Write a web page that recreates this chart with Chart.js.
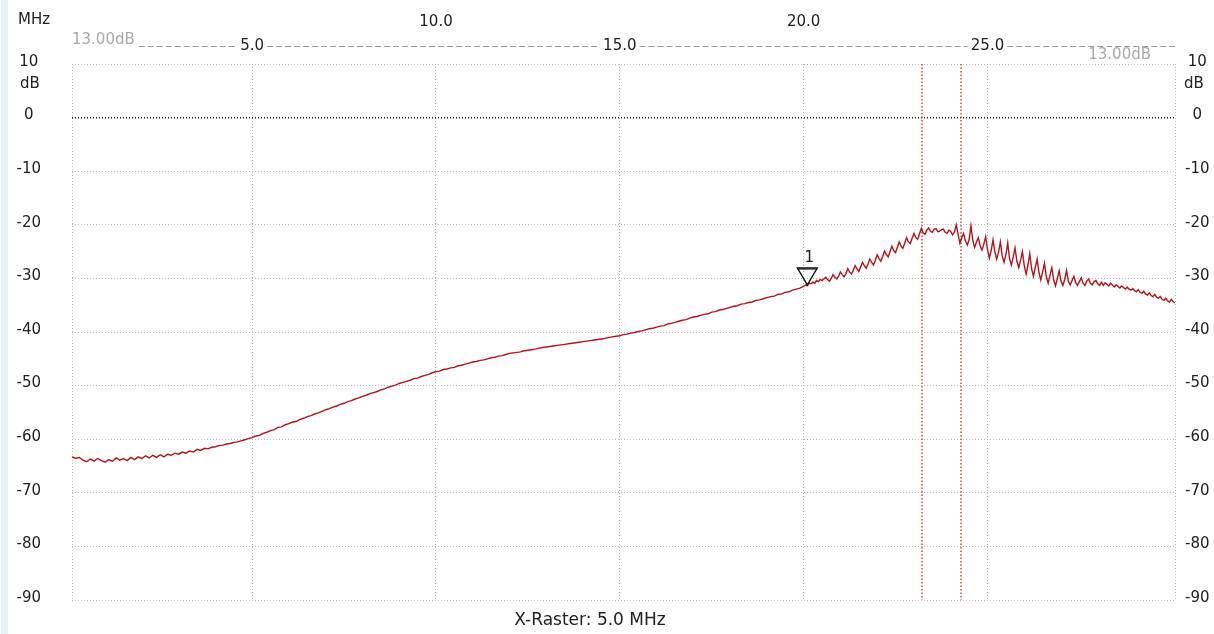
<!DOCTYPE html>
<html>
<head>
<meta charset="utf-8">
<script src="https://cdn.jsdelivr.net/npm/chart.js@4.4.0/dist/chart.umd.min.js"></script>
<style>
  html, body { margin: 0; padding: 0; background: #ffffff; }
  #wrap { position: relative; width: 1214px; height: 634px; }
</style>
</head>
<body>
<div id="wrap"><canvas id="sweep"></canvas></div>
<script>
// Sweep, 0.1 .. 19.9 MHz in 0.1 MHz steps (dB)
const coarseStartMHz = 0.1;
const coarseStepMHz = 0.1;
const coarseDb = [
  -63.3,-63.6,-63.4,-63.9,-64.2,-63.7,-64.1,-63.6,-64.0,-64.3,
  -63.8,-64.1,-63.5,-63.9,-63.6,-64.0,-63.4,-63.8,-63.3,-63.6,
  -63.1,-63.5,-63.0,-63.4,-62.9,-63.3,-62.8,-63.0,-62.6,-62.8,
  -62.4,-62.6,-62.2,-62.4,-61.9,-62.1,-61.7,-61.8,-61.5,-61.4,
  -61.2,-61.1,-60.9,-60.8,-60.6,-60.5,-60.3,-60.1,-59.9,-59.7,
  -59.4,-59.3,-58.9,-58.7,-58.4,-58.2,-57.8,-57.7,-57.3,-57.1,
  -56.8,-56.7,-56.3,-56.1,-55.8,-55.6,-55.3,-55.1,-54.8,-54.5,
  -54.3,-54.0,-53.8,-53.5,-53.3,-53.0,-52.8,-52.5,-52.3,-52.0,
  -51.8,-51.5,-51.3,-51.1,-50.8,-50.6,-50.3,-50.1,-49.9,-49.6,
  -49.4,-49.2,-49.0,-48.7,-48.6,-48.3,-48.1,-47.9,-47.6,-47.4,
  -47.3,-47.0,-46.9,-46.7,-46.6,-46.3,-46.2,-46.0,-45.8,-45.6,
  -45.5,-45.3,-45.2,-45.0,-44.8,-44.7,-44.5,-44.4,-44.2,-44.0,
  -43.9,-43.8,-43.7,-43.5,-43.4,-43.3,-43.2,-43.0,-42.9,-42.8,
  -42.7,-42.6,-42.5,-42.4,-42.3,-42.2,-42.1,-42.0,-41.9,-41.8,
  -41.7,-41.6,-41.5,-41.4,-41.3,-41.2,-41.0,-40.9,-40.8,-40.7,
  -40.5,-40.4,-40.2,-40.1,-39.9,-39.8,-39.6,-39.4,-39.3,-39.1,
  -38.9,-38.8,-38.5,-38.4,-38.2,-38.0,-37.8,-37.7,-37.4,-37.2,
  -37.1,-36.9,-36.7,-36.6,-36.3,-36.2,-35.9,-35.8,-35.6,-35.4,
  -35.2,-35.1,-34.8,-34.7,-34.5,-34.4,-34.1,-34.0,-33.8,-33.6,
  -33.4,-33.3,-33.0,-32.9,-32.6,-32.5,-32.2,-32.0,-31.8
];

// Sweep, 20.00 .. 30.10 MHz in 0.05 MHz steps (dB) - resonance region
const fineStartMHz = 20.0;
const fineStepMHz = 0.05;
const fineDb = [
  -31.5,-31.2,-31.4,-30.9,-31.0,-30.7,-30.9,-30.4,-30.6,-30.2,-30.4,-30.1,
  -29.8,-30.2,-30.5,-30.0, -29.3,-29.8,-30.1,-29.6, -28.8,-29.3,-29.7,-29.1,
  -28.2,-28.8,-29.2,-28.5, -27.6,-28.2,-28.7,-27.9, -27.0,-27.6,-28.1,-27.3,
  -26.4,-27.0,-27.5,-26.6, -25.6,-26.3,-26.8,-25.9, -24.9,-25.6,-26.0,-25.0,
  -24.0,-24.8,-25.2,-24.2, -23.2,-24.0,-24.4,-23.4, -22.4,-23.2,-23.5,-22.5,
  -21.6,-22.4,-22.7,-21.7, -20.7,-21.5,-21.8,-21.0, -20.6,-21.2,-21.4,-20.8,
  -20.7,-21.3,-21.2,-20.9, -20.8,-21.4,-21.6,-21.0, -21.2,-21.9,-21.4,
  -20.0,-21.8,-23.4,-22.4,
  -21.6,-23.0,-23.8,-22.8,
  -20.2,-22.9,-24.2,-23.2,
  -22.4,-23.9,-24.7,-23.6,
  -22.2,-24.6,-26.2,-24.8,
  -22.8,-25.0,-26.4,-25.2,
  -23.2,-25.8,-27.0,-25.6,
  -23.4,-26.3,-27.5,-26.0,
  -24.3,-26.8,-28.0,-26.6,
  -25.0,-27.6,-29.2,-27.5,
  -25.4,-28.2,-29.6,-28.0,
  -26.4,-28.9,-30.3,-28.8,
  -27.2,-29.7,-30.9,-29.4,
  -28.0,-30.3,-31.4,-30.0,
  -28.6,-30.5,-31.3,-30.2,
  -28.5,-30.6,-31.2,-30.4,
  -29.6,-30.8,-31.3,-30.6,
  -29.9,-30.9,-31.3,-30.5,
  -30.1,-30.9,-31.2,-30.6,
  -30.4,-31.0,-31.3,-30.7,
  -31.3,-30.8,-31.1,-31.4,-30.9,-31.3,-31.6,
  -31.2,-31.5,-31.8,-31.4,-31.7,-32.0,-31.6,-32.0,-32.2,-31.9,
  -32.3,-32.5,-32.1,-32.6,-32.8,-32.4,-32.9,-33.1,-32.7,-33.2,
  -33.4,-33.0,-33.5,-33.7,-33.4,-33.9,-34.1,-33.7,-34.2,-34.4,
  -33.9,-34.3,-34.6
];

// Axis layout
const sweepMinMHz = 0.1;
const sweepMaxMHz = 30.1;
const gridMHz = [5, 10, 15, 20, 25];
const upperRowMHz = [10, 20];
const dbTicks = [10, 0, -10, -20, -30, -40, -50, -60, -70, -80, -90];
const dbMin = -90;
const dbMax = 10;

// Cursor lines and marker
const cursorMHz = [23.22, 24.28];
const markerMHz = 20.1;
const markerName = '1';

// Texts
const xUnitText = 'MHz';
const yUnitText = 'dB';
const refLevelText = '13.00dB';
const rasterText = 'X-Raster: 5.0 MHz';

const FONT = '"DejaVu Sans", "Liberation Sans", sans-serif';

const tracePoints = [];
coarseDb.forEach((v, i) => tracePoints.push({ x: +(coarseStartMHz + i * coarseStepMHz).toFixed(2), y: v }));
fineDb.forEach((v, i) => tracePoints.push({ x: +(fineStartMHz + i * fineStepMHz).toFixed(2), y: v }));

function nearestDb(f) {
  let best = tracePoints[0];
  for (const p of tracePoints) if (Math.abs(p.x - f) < Math.abs(best.x - f)) best = p;
  return best.y;
}

const cursorSets = cursorMHz.map(f => ({
  type: 'line',
  data: [{ x: f, y: dbMax }, { x: f, y: dbMin }],
  borderColor: '#d23a3a',
  borderWidth: 1.4,
  borderDash: [1.5, 2],
  pointRadius: 0,
  tension: 0
}));

const decor = {
  id: 'decor',
  beforeDraw(chart) {
    const ctx = chart.ctx;
    ctx.save();
    ctx.fillStyle = '#ffffff';
    ctx.fillRect(0, 0, chart.width, chart.height);
    ctx.fillStyle = '#e8f1f9';
    ctx.fillRect(1, 0, 7, chart.height);
    ctx.restore();
  },
  afterDraw(chart) {
    const ctx = chart.ctx;
    const xs = chart.scales.x, ys = chart.scales.y;
    const area = chart.chartArea;
    ctx.save();

    // reference level line across the top
    const refY = 46;
    ctx.font = '15px ' + FONT;
    const leftTextW = ctx.measureText(refLevelText).width;
    const gaps = [[area.left - 2, area.left + leftTextW + 4]];
    gridMHz.filter(v => !upperRowMHz.includes(v)).forEach(v => {
      const w = ctx.measureText(v.toFixed(1)).width;
      const c = xs.getPixelForValue(v);
      gaps.push([c - w / 2 - 3, c + w / 2 + 3]);
    });
    ctx.strokeStyle = '#9a9a9a';
    ctx.lineWidth = 1;
    ctx.setLineDash([6, 3]);
    let start = area.left;
    gaps.sort((a, b) => a[0] - b[0]);
    const segs = [];
    for (const g of gaps) {
      if (g[0] > start) segs.push([start, g[0]]);
      start = Math.max(start, g[1]);
    }
    segs.push([start, area.right + 1]);
    ctx.beginPath();
    for (const s of segs) { ctx.moveTo(s[0], refY + 0.5); ctx.lineTo(s[1], refY + 0.5); }
    ctx.stroke();
    ctx.setLineDash([]);

    ctx.fillStyle = '#a9a9a9';
    ctx.font = '15px ' + FONT;
    ctx.textBaseline = 'middle';
    ctx.textAlign = 'left';
    ctx.fillText(refLevelText, area.left, 40);
    ctx.textAlign = 'right';
    ctx.fillText(refLevelText, area.right - 24, 55);

    // unit labels
    ctx.fillStyle = '#222222';
    ctx.font = '15px ' + FONT;
    ctx.textAlign = 'center';
    ctx.fillText(xUnitText, 34, 20);
    ctx.fillText(yUnitText, 30, 84);
    ctx.fillText(yUnitText, 1194, 84);

    // raster note
    ctx.font = '17px ' + FONT;
    ctx.fillText(rasterText, 590, 621);

    // marker 1
    const mx = xs.getPixelForValue(markerMHz);
    const my = ys.getPixelForValue(nearestDb(markerMHz));
    ctx.strokeStyle = '#111111';
    ctx.lineWidth = 1.3;
    ctx.beginPath();
    ctx.moveTo(mx - 10, my - 18);
    ctx.lineTo(mx + 10, my - 18);
    ctx.lineTo(mx, my - 1);
    ctx.closePath();
    ctx.stroke();
    ctx.beginPath();
    ctx.moveTo(mx - 10, my - 17);
    ctx.lineTo(mx + 10, my - 17);
    ctx.stroke();
    ctx.fillStyle = '#222222';
    ctx.font = '15px ' + FONT;
    ctx.fillText(markerName, mx + 2, my - 28);
    ctx.restore();
  }
};

new Chart(document.getElementById('sweep'), {
  type: 'line',
  data: {
    datasets: [
      {
        data: tracePoints,
        borderColor: '#b3141c',
        borderWidth: 1.4,
        pointRadius: 0,
        tension: 0
      },
      ...cursorSets
    ]
  },
  options: {
    responsive: true,
    maintainAspectRatio: false,
    animation: false,
    layout: { padding: { left: 0, right: 0, top: 0, bottom: 34 } },
    plugins: { legend: { display: false }, tooltip: { enabled: false }, title: { display: false } },
    scales: {
      x: {
        type: 'linear',
        position: 'top',
        min: sweepMinMHz,
        max: sweepMaxMHz,
        afterBuildTicks: s => { s.ticks = [sweepMinMHz, ...gridMHz, sweepMaxMHz].map(v => ({ value: v })); },
        afterFit: s => { s.height = 64; },
        grid: {
          color: '#bdbdbd',
          lineWidth: 1,
          drawTicks: false
        },
        border: { display: false, dash: [1, 2] },
        ticks: {
          autoSkip: false,
          maxRotation: 0,
          padding: 6,
          color: '#222222',
          font: { family: FONT, size: 15, lineHeight: 1.6 },
          callback: v => gridMHz.includes(v)
            ? (upperRowMHz.includes(v) ? [v.toFixed(1), ''] : ['', v.toFixed(1)])
            : ''
        }
      },
      y: {
        type: 'linear',
        position: 'left',
        min: dbMin,
        max: dbMax,
        afterBuildTicks: s => { s.ticks = dbTicks.map(v => ({ value: v })); },
        afterFit: s => { s.width = 72; },
        grid: {
          color: c => (c.tick && c.tick.value === 0) ? '#1a1a1a' : '#bdbdbd',
          lineWidth: c => (c.tick && c.tick.value === 0) ? 1.5 : 1,
          drawTicks: true,
          tickLength: 28,
          tickColor: 'rgba(0,0,0,0)'
        },
        border: { display: false, dash: [1, 2] },
        ticks: {
          crossAlign: 'center',
          labelOffset: -2,
          color: '#222222',
          font: { family: FONT, size: 15 },
          callback: v => String(v)
        }
      },
      y2: {
        type: 'linear',
        position: 'right',
        min: dbMin,
        max: dbMax,
        afterBuildTicks: s => { s.ticks = dbTicks.map(v => ({ value: v })); },
        afterFit: s => { s.width = 39; },
        grid: {
          drawOnChartArea: false,
          drawTicks: true,
          tickLength: 7,
          tickColor: 'rgba(0,0,0,0)'
        },
        border: { display: false },
        ticks: {
          crossAlign: 'center',
          labelOffset: -2,
          color: '#222222',
          font: { family: FONT, size: 15 },
          callback: v => String(v)
        }
      }
    }
  },
  plugins: [decor]
});
</script>
</body>
</html>
